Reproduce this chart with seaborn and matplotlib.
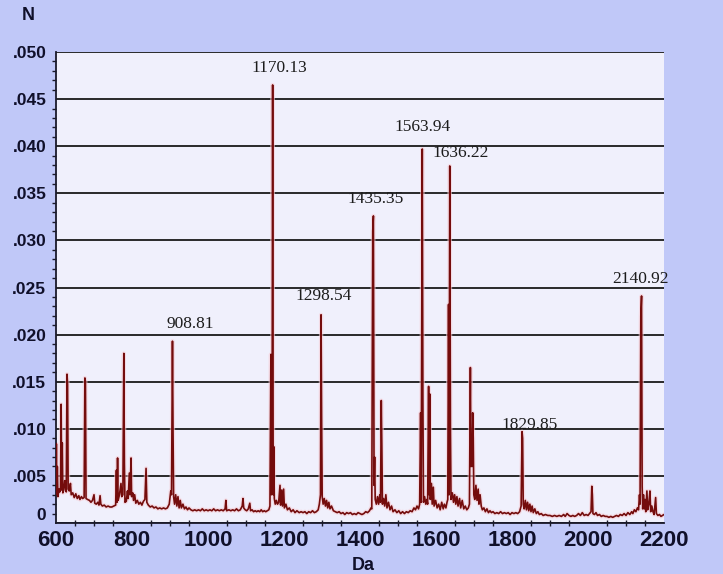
import matplotlib
matplotlib.use("Agg")
import matplotlib.pyplot as plt
import seaborn as sns
import numpy as np
import pandas as pd
from matplotlib.ticker import MultipleLocator

# ---------------- data ----------------
mz = [
    600, 601, 602, 603.5, 605, 608, 610, 612, 613.5, 615, 616.5, 618, 621, 623, 625, 627,
    629, 630.5, 632, 635, 638, 640, 644, 648, 652, 656, 660, 663, 667, 670, 674, 676,
    677.5, 679, 683, 688, 692, 696, 700, 702, 706, 710, 713, 716, 718, 722, 727, 732,
    737, 742, 747, 752, 757, 759, 760.5, 762, 763.5, 767, 771, 773, 776, 778.5, 780, 781.5,
    785, 788, 790, 793, 795, 797.5, 799, 802, 804, 807, 810, 814, 818, 822, 826, 830,
    834, 837, 839, 843, 848, 853, 858, 863, 868, 873, 878, 883, 888, 893, 898, 902,
    904, 906.5, 908, 909.5, 912, 915, 918, 921, 924, 927, 930, 934, 938, 942, 946, 950,
    955, 960, 965, 970, 975, 980, 985, 990, 995, 1000, 1005, 1010, 1015, 1020, 1025, 1030,
    1035, 1040, 1045, 1047, 1049, 1055, 1060, 1065, 1070, 1075, 1080, 1085, 1090, 1092, 1094, 1098,
    1102, 1106, 1110, 1112, 1116, 1120, 1124, 1128, 1132, 1136, 1140, 1144, 1148, 1152, 1156, 1160,
    1163, 1165.5, 1167, 1168.5, 1170.1, 1171.5, 1173, 1174.5, 1177, 1180, 1183, 1186, 1189.5, 1191, 1194, 1196,
    1199, 1201, 1205, 1209, 1214, 1219, 1224, 1229, 1234, 1240, 1245, 1250, 1255, 1260, 1265, 1270,
    1275, 1280, 1285, 1290, 1293, 1296, 1297.5, 1299, 1300.5, 1303, 1306, 1309, 1312, 1315, 1318, 1321,
    1325, 1330, 1335, 1340, 1345, 1350, 1355, 1360, 1365, 1370, 1375, 1380, 1385, 1390, 1395, 1400,
    1405, 1410, 1415, 1420, 1425, 1429, 1431, 1433.5, 1435.3, 1437, 1438.5, 1440, 1443, 1446, 1449, 1452,
    1454, 1456, 1457.5, 1459, 1462, 1465, 1468, 1471, 1475, 1479, 1483, 1487, 1492, 1497, 1502, 1507,
    1512, 1517, 1522, 1527, 1532, 1537, 1542, 1546, 1550, 1554, 1557, 1559.5, 1561, 1563.9, 1565.5, 1567,
    1570, 1573, 1576, 1578, 1580.5, 1582, 1583.5, 1585, 1588, 1590, 1593, 1595, 1599, 1603, 1607, 1611,
    1615, 1619, 1622, 1626, 1629, 1631, 1633, 1634.5, 1636.2, 1638, 1639.5, 1643, 1646, 1649, 1652, 1655,
    1658, 1662, 1665, 1669, 1673, 1677, 1681, 1685, 1688, 1690.5, 1692, 1693.5, 1695, 1696.5, 1698, 1699.5,
    1702, 1705, 1708, 1711, 1713, 1716, 1719, 1722, 1726, 1730, 1734, 1738, 1742, 1746, 1750, 1755,
    1760, 1765, 1770, 1775, 1780, 1785, 1790, 1795, 1800, 1805, 1810, 1815, 1820, 1824, 1826.5, 1828,
    1829.5, 1832, 1835, 1838, 1841, 1844, 1847, 1850, 1853, 1856, 1860, 1864, 1868, 1872, 1877, 1882,
    1888, 1894, 1900, 1906, 1912, 1918, 1924, 1930, 1936, 1940, 1945, 1950, 1955, 1960, 1965, 1970,
    1975, 1980, 1985, 1990, 1995, 2000, 2004, 2008, 2010, 2011.5, 2013, 2017, 2021, 2025, 2030, 2035,
    2040, 2045, 2050, 2055, 2060, 2065, 2070, 2075, 2080, 2085, 2090, 2095, 2100, 2105, 2110, 2115,
    2118, 2122, 2126, 2130, 2133, 2135.5, 2137, 2139, 2140.9, 2142.5, 2144, 2146, 2148, 2150, 2152, 2155,
    2157, 2160, 2163, 2165, 2168, 2171, 2174, 2178, 2180, 2184, 2188, 2192, 2196, 2200,
]

intensity = [
    0.0032, 0.0084, 0.0030, 0.0060, 0.0028, 0.0036, 0.0033, 0.0038, 0.0126, 0.0035, 0.0085, 0.0032, 0.0036, 0.0045, 0.0040, 0.0033,
    0.0158, 0.0147, 0.0036, 0.0034, 0.0042, 0.0030, 0.0032, 0.0027, 0.0031, 0.0026, 0.0029, 0.0025, 0.0028, 0.0026, 0.0027, 0.0154,
    0.0150, 0.0026, 0.0025, 0.0024, 0.0022, 0.0024, 0.0030, 0.0021, 0.0020, 0.0022, 0.0019, 0.0029, 0.0020, 0.0018, 0.0019, 0.0017,
    0.0018, 0.0017, 0.0017, 0.0018, 0.0019, 0.0056, 0.0022, 0.0069, 0.0024, 0.0030, 0.0042, 0.0028, 0.0030, 0.0180, 0.0064, 0.0022,
    0.0023, 0.0034, 0.0026, 0.0053, 0.0030, 0.0069, 0.0028, 0.0032, 0.0024, 0.0030, 0.0021, 0.0024, 0.0020, 0.0022, 0.0019, 0.0023,
    0.0025, 0.0058, 0.0022, 0.0019, 0.0017, 0.0018, 0.0016, 0.0017, 0.0015, 0.0016, 0.0015, 0.0016, 0.0015, 0.0016, 0.0020, 0.0034,
    0.0030, 0.0193, 0.0096, 0.0028, 0.0020, 0.0030, 0.0018, 0.0028, 0.0016, 0.0024, 0.0016, 0.0020, 0.0015, 0.0017, 0.0014, 0.0016,
    0.0014, 0.0013, 0.0014, 0.0013, 0.0014, 0.0013, 0.0015, 0.0013, 0.0014, 0.0013, 0.0014, 0.0013, 0.0015, 0.0013, 0.0014, 0.0013,
    0.0014, 0.0013, 0.0015, 0.0024, 0.0013, 0.0014, 0.0013, 0.0014, 0.0013, 0.0015, 0.0013, 0.0014, 0.0018, 0.0026, 0.0016, 0.0014,
    0.0013, 0.0015, 0.0021, 0.0013, 0.0014, 0.0012, 0.0013, 0.0012, 0.0013, 0.0012, 0.0014, 0.0012, 0.0013, 0.0012, 0.0013, 0.0014,
    0.0018, 0.0179, 0.0030, 0.0040, 0.0465, 0.0030, 0.0081, 0.0026, 0.0020, 0.0024, 0.0020, 0.0022, 0.0040, 0.0019, 0.0035, 0.0018,
    0.0036, 0.0016, 0.0020, 0.0014, 0.0016, 0.0012, 0.0014, 0.0011, 0.0013, 0.0011, 0.0012, 0.0011, 0.0012, 0.0010, 0.0012, 0.0011,
    0.0013, 0.0011, 0.0012, 0.0014, 0.0020, 0.0030, 0.0221, 0.0113, 0.0028, 0.0020, 0.0026, 0.0018, 0.0024, 0.0016, 0.0022, 0.0015,
    0.0018, 0.0013, 0.0012, 0.0011, 0.0012, 0.0010, 0.0011, 0.0009, 0.0011, 0.0010, 0.0011, 0.0009, 0.0010, 0.0009, 0.0011, 0.0010,
    0.0009, 0.0010, 0.0012, 0.0011, 0.0013, 0.0016, 0.0015, 0.0310, 0.0326, 0.0040, 0.0070, 0.0025, 0.0020, 0.0028, 0.0020, 0.0030,
    0.0022, 0.0130, 0.0082, 0.0020, 0.0026, 0.0018, 0.0030, 0.0016, 0.0022, 0.0014, 0.0018, 0.0012, 0.0014, 0.0011, 0.0013, 0.0010,
    0.0012, 0.0010, 0.0012, 0.0011, 0.0013, 0.0012, 0.0016, 0.0014, 0.0018, 0.0015, 0.0020, 0.0117, 0.0022, 0.0397, 0.0130, 0.0022,
    0.0028, 0.0020, 0.0025, 0.0020, 0.0145, 0.0030, 0.0137, 0.0025, 0.0042, 0.0020, 0.0038, 0.0018, 0.0024, 0.0016, 0.0020, 0.0014,
    0.0022, 0.0015, 0.0020, 0.0016, 0.0022, 0.0025, 0.0232, 0.0030, 0.0379, 0.0102, 0.0025, 0.0032, 0.0022, 0.0030, 0.0020, 0.0028,
    0.0018, 0.0026, 0.0016, 0.0024, 0.0015, 0.0018, 0.0014, 0.0016, 0.0020, 0.0165, 0.0060, 0.0092, 0.0060, 0.0117, 0.0090, 0.0030,
    0.0025, 0.0040, 0.0024, 0.0036, 0.0020, 0.0030, 0.0018, 0.0014, 0.0016, 0.0012, 0.0015, 0.0011, 0.0013, 0.0011, 0.0012, 0.0010,
    0.0011, 0.0010, 0.0012, 0.0010, 0.0011, 0.0010, 0.0011, 0.0009, 0.0011, 0.0010, 0.0011, 0.0010, 0.0012, 0.0018, 0.0097, 0.0090,
    0.0020, 0.0015, 0.0024, 0.0014, 0.0022, 0.0013, 0.0020, 0.0012, 0.0018, 0.0011, 0.0015, 0.0010, 0.0012, 0.0009, 0.0010, 0.0008,
    0.0009, 0.0008, 0.0008, 0.0007, 0.0008, 0.0007, 0.0008, 0.0007, 0.0009, 0.0007, 0.0010, 0.0008, 0.0007, 0.0008, 0.0007, 0.0008,
    0.0010, 0.0008, 0.0011, 0.0008, 0.0009, 0.0008, 0.0010, 0.0012, 0.0039, 0.0030, 0.0010, 0.0009, 0.0011, 0.0008, 0.0009, 0.0007,
    0.0008, 0.0007, 0.0007, 0.0006, 0.0007, 0.0006, 0.0007, 0.0008, 0.0007, 0.0009, 0.0008, 0.0010, 0.0008, 0.0011, 0.0009, 0.0012,
    0.0010, 0.0014, 0.0012, 0.0016, 0.0014, 0.0030, 0.0020, 0.0220, 0.0241, 0.0039, 0.0015, 0.0030, 0.0015, 0.0025, 0.0012, 0.0034,
    0.0014, 0.0020, 0.0034, 0.0012, 0.0018, 0.0012, 0.0009, 0.0027, 0.0010, 0.0008, 0.0009, 0.0007, 0.0008, 0.0009,
]

label_mz = [908.81, 1170.13, 1298.54, 1435.35, 1563.94, 1636.22, 1829.85, 2140.92]
label_text = ["908.81", "1170.13", "1298.54", "1435.35", "1563.94", "1636.22", "1829.85", "2140.92"]

y_ticks = [0, 0.005, 0.010, 0.015, 0.020, 0.025, 0.030, 0.035, 0.040, 0.045, 0.050]
y_tick_labels = ["0", ".005", ".010", ".015", ".020", ".025", ".030", ".035", ".040", ".045", ".050"]
x_ticks = [600, 800, 1000, 1200, 1400, 1600, 1800, 2000, 2200]

# ---------------- styling ----------------
sns.set_theme(style="white")
plt.rcParams['font.family'] = ['Liberation Sans', 'DejaVu Sans']

W, H = 723, 574
fig = plt.figure(figsize=(W / 100, H / 100), dpi=100, facecolor='#C0C8F8')
ax = fig.add_axes([56 / W, 51 / H, 608 / W, 471 / H])
ax.set_facecolor('#F0F0FC')

df = pd.DataFrame({"mz": mz, "intensity": intensity})

# pale halo around the trace
sns.lineplot(data=df, x="mz", y="intensity", ax=ax, estimator=None, sort=False,
             color='#F6CCD4', linewidth=3.0, alpha=0.6, zorder=2)
sns.lineplot(data=df, x="mz", y="intensity", ax=ax, estimator=None, sort=False,
             color='#740C0C', linewidth=1.2, zorder=3)

ax.set_xlim(600, 2200)
ax.set_ylim(0, 0.050)

# horizontal grid
ax.set_yticks(y_ticks)
ax.set_yticklabels(y_tick_labels)
ax.yaxis.grid(True, color='#1A1A1A', linewidth=1.3, zorder=1)
ax.xaxis.grid(False)
ax.set_axisbelow(True)
ax.yaxis.set_minor_locator(MultipleLocator(0.001))

ax.set_xticks(x_ticks)
ax.set_xticklabels([str(v) for v in x_ticks])
ax.xaxis.set_minor_locator(MultipleLocator(50))

ax.tick_params(axis='y', which='major', direction='out', length=6, width=1.2,
               color='#1A1A2A', labelsize=12.5, pad=1, labelcolor='#10102A')
ax.tick_params(axis='y', which='minor', direction='out', length=3, width=1.0,
               color='#1A1A2A', left=True)
ax.tick_params(axis='x', which='major', direction='inout', length=8, width=1.2,
               color='#1A1A2A', labelsize=16, pad=1, labelcolor='#10102A')
ax.tick_params(axis='x', which='minor', direction='inout', length=5, width=1.0,
               color='#1A1A2A', bottom=True)
for lab in ax.get_xticklabels() + ax.get_yticklabels():
    lab.set_fontweight('bold')
# the "0" label sits just above the "600" label, as in the reference
ax.get_yticklabels()[0].set_verticalalignment('bottom')

for side in ['top', 'right']:
    ax.spines[side].set_visible(False)
for side in ['left', 'bottom']:
    ax.spines[side].set_color('#1A1A2A')
    ax.spines[side].set_linewidth(1.3)

ax.set_xlabel("")
ax.set_ylabel("")

# peak labels
label_dx = [12, 5, 1.5, 1.5, 0, 8, 4.5, -0.5]
label_dy = [6.5, 6.5, 8, 6.5, 10, 3.5, 3.5, 6.5]
mz_arr = np.array(mz)
int_arr = np.array(intensity)
for m, t, dx, dy in zip(label_mz, label_text, label_dx, label_dy):
    near = np.abs(mz_arr - m) < 2.5
    h = int_arr[near].max()
    ax.annotate(t, xy=(m, h), xytext=(dx, dy), textcoords='offset points',
                ha='center', va='bottom', fontsize=12.5, color='#1C1C1C',
                fontfamily='Liberation Serif', zorder=5)

fig.text(28 / W, 1 - 15 / H, "N", ha='center', va='center', fontsize=13,
         fontweight='bold', color='#10102A')
fig.text(363 / W, 1 - 565 / H, "Da", ha='center', va='center', fontsize=13,
         fontweight='bold', color='#10102A')

fig.savefig("out.png", dpi=100, facecolor=fig.get_facecolor())
